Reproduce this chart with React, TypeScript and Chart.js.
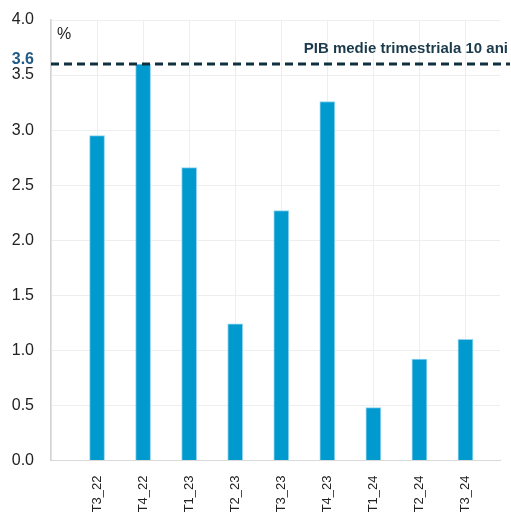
import React, { useEffect, useRef } from "react";
import { Chart, registerables } from "chart.js";

Chart.register(...registerables);

const categories = ["T3_22", "T4_22", "T1_23", "T2_23", "T3_23", "T4_23", "T1_24", "T2_24", "T3_24"];
const values = [2.95, 3.6, 2.66, 1.24, 2.27, 3.26, 0.48, 0.92, 1.1];
const yTicks = [0, 0.5, 1, 1.5, 2, 2.5, 3, 3.5, 4];
const averageValue = 3.6;
const averageLabel = "PIB medie trimestriala 10 ani";
const unitLabel = "%";

const FONT = "'Liberation Sans', Arial, sans-serif";

const overlayPlugin = {
  id: "overlay",
  afterDatasetsDraw(chart: any) {
    const { ctx, chartArea, scales } = chart;
    const y = scales.y.getPixelForValue(averageValue);
    ctx.save();
    // dashed average line
    ctx.strokeStyle = "#11303f";
    ctx.lineWidth = 3;
    ctx.setLineDash([8, 5]);
    ctx.beginPath();
    ctx.moveTo(chartArea.left, y);
    ctx.lineTo(chart.width - 1, y);
    ctx.stroke();
    ctx.setLineDash([]);
    // label right
    ctx.fillStyle = "#1b3a4c";
    ctx.font = `bold 15px ${FONT}`;
    ctx.textAlign = "right";
    ctx.textBaseline = "alphabetic";
    ctx.fillText(averageLabel, chart.width - 3, y - 11);
    // 3.6 label left
    ctx.fillStyle = "#215a84";
    ctx.font = `bold 16px ${FONT}`;
    ctx.textAlign = "right";
    ctx.textBaseline = "middle";
    ctx.fillText(averageValue.toFixed(1), chartArea.left - 17, y - 4);
    // percent unit
    ctx.fillStyle = "#222222";
    ctx.font = `16px ${FONT}`;
    ctx.textAlign = "left";
    ctx.textBaseline = "alphabetic";
    ctx.fillText(unitLabel, chartArea.left + 6, chartArea.top + 19);
    ctx.restore();
  },
};

export default function App() {
  const ref = useRef<HTMLCanvasElement | null>(null);
  useEffect(() => {
    if (!ref.current) return;
    const chart = new Chart(ref.current, {
      type: "bar",
      data: {
        datasets: [
          {
            data: values.map((v, i) => ({ x: i, y: v })),
            backgroundColor: "#009acf",
            borderColor: "#8fd3ef",
            borderWidth: 1,
            barThickness: 15,
          },
        ],
      },
      options: {
        animation: false,
        responsive: true,
        maintainAspectRatio: false,
        layout: { padding: { top: 20, right: 11, left: 0, bottom: 0 } },
        plugins: { legend: { display: false }, tooltip: { enabled: false } },
        scales: {
          x: {
            type: "linear",
            offset: false,
            min: -1,
            max: 8.75,
            afterBuildTicks: (scale: any) => {
              scale.ticks = [-1, ...categories.map((_, i) => i)].map((v) => ({ value: v }));
            },
            afterFit: (scale: any) => {
              scale.height = 53.5;
              scale.paddingLeft = 0;
              scale.paddingRight = 0;
              scale.paddingTop = 0;
              scale.paddingBottom = 0;
            },
            grid: { color: "#eeeeee", drawTicks: false, offset: false },
            border: { color: "#d9d9d9", width: 1 },
            ticks: {
              autoSkip: false,
              minRotation: 90,
              maxRotation: 90,
              padding: 15,
              color: "#222222",
              font: { family: FONT, size: 13 },
              callback: (v: any) => categories[v] ?? "",
            },
          },
          y: {
            min: 0,
            max: 4,
            afterBuildTicks: (scale: any) => {
              scale.ticks = yTicks.map((v) => ({ value: v }));
            },
            afterFit: (scale: any) => {
              scale.width = 51;
              scale.paddingTop = 0;
              scale.paddingBottom = 0;
            },
            grid: { color: "#eeeeee", drawTicks: false },
            border: { color: "#d4d4d4", width: 1.5 },
            ticks: {
              padding: 17,
              color: "#222222",
              font: { family: FONT, size: 16 },
              callback: (v: any) => Number(v).toFixed(1),
            },
          },
        },
      },
      plugins: [overlayPlugin],
    } as any);
    return () => chart.destroy();
  }, []);
  return (
    <div style={{ position: "absolute", left: 0, top: 0, width: 511, height: 514, background: "#fff" }}>
      <canvas ref={ref} />
    </div>
  );
}
